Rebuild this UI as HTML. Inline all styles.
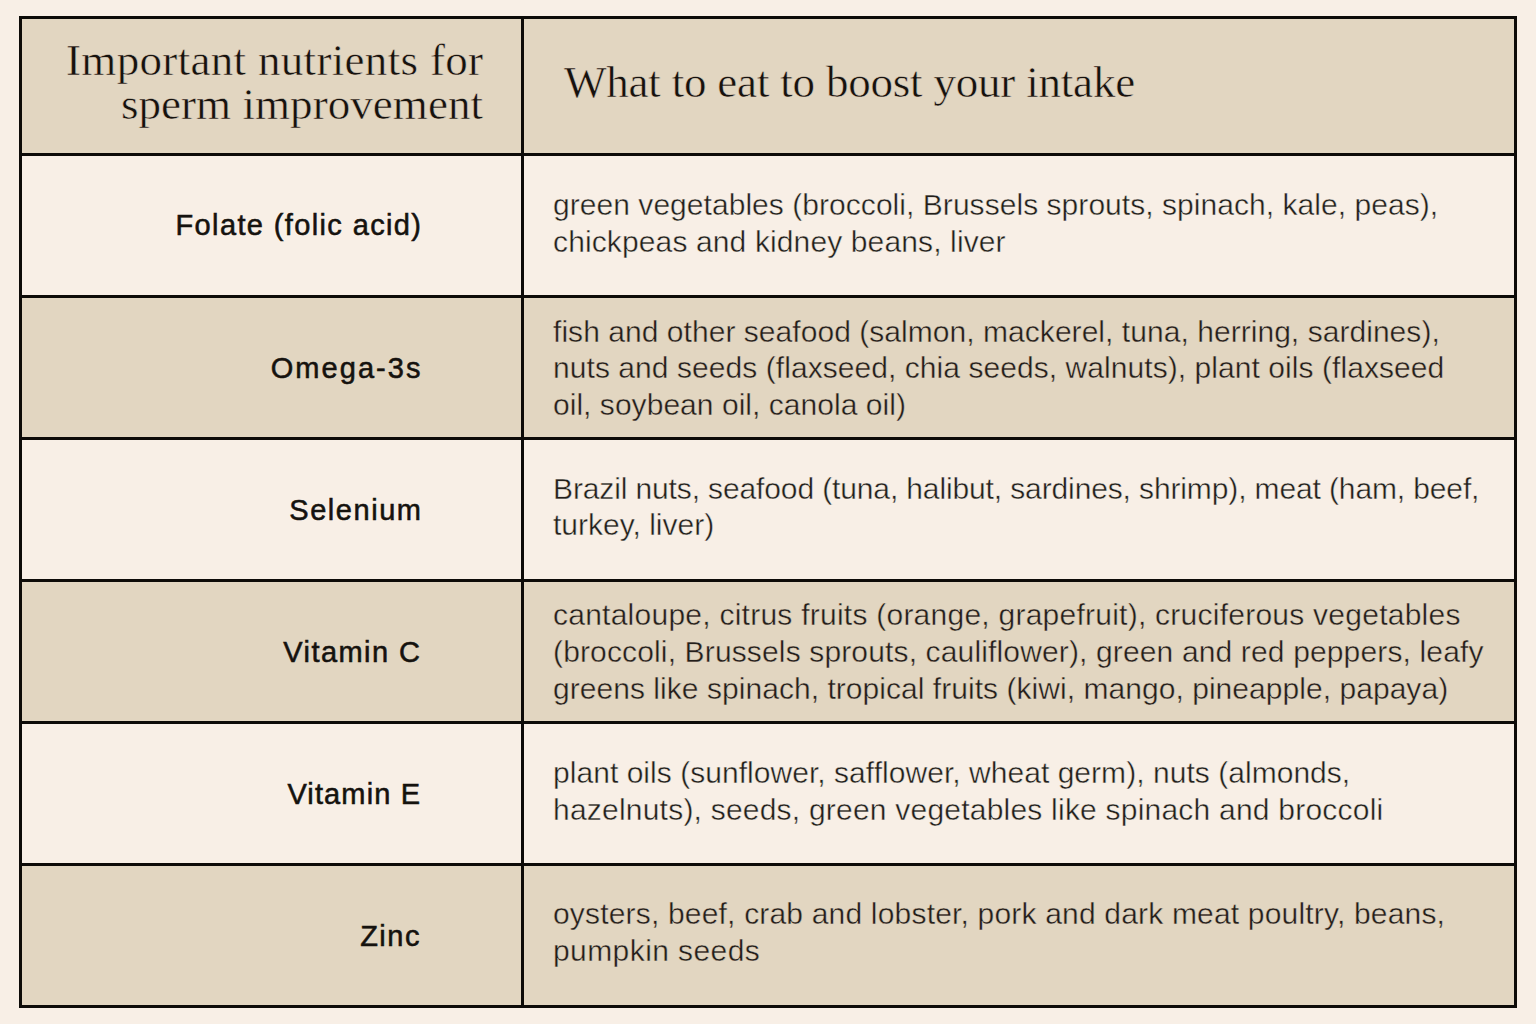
<!DOCTYPE html>
<html>
<head>
<meta charset="utf-8">
<style>
html,body{margin:0;padding:0;}
body{width:1536px;height:1024px;background:#f8efe6;position:relative;overflow:hidden;}
.bg{position:absolute;left:22px;width:1492px;}
.beige{background:#e2d6c1;}
.cream{background:#f8efe6;}
.creams{-webkit-text-stroke:0.4px #f8efe6;}
.beiges{-webkit-text-stroke:0.4px #e2d6c1;}
.hl{position:absolute;left:19px;width:1498px;height:3px;background:#0d0b08;}
.vl{position:absolute;top:16px;width:3px;height:992px;background:#0d0b08;}
.serif{position:absolute;font-family:"Liberation Serif",serif;font-size:45px;line-height:44px;color:#15120e;white-space:nowrap;-webkit-text-stroke:0.5px #e2d6c1;}
.lab{position:absolute;right:1117px;font-family:"Liberation Sans",sans-serif;font-weight:400;color:#15120e;white-space:nowrap;line-height:36px;text-align:right;-webkit-text-stroke:0.55px #15120e;}
.t{position:absolute;left:553px;font-family:"Liberation Sans",sans-serif;line-height:36px;color:#221f1b;white-space:nowrap;}
</style>
</head>
<body>
<div class="bg beige" style="top:19px;height:134px"></div>
<div class="bg cream" style="top:156px;height:139px"></div>
<div class="bg beige" style="top:298px;height:139px"></div>
<div class="bg cream" style="top:440px;height:139px"></div>
<div class="bg beige" style="top:582px;height:139px"></div>
<div class="bg cream" style="top:724px;height:139px"></div>
<div class="bg beige" style="top:866px;height:139px"></div>
<div class="hl" style="top:16px"></div>
<div class="hl" style="top:153px"></div>
<div class="hl" style="top:295px"></div>
<div class="hl" style="top:437px"></div>
<div class="hl" style="top:579px"></div>
<div class="hl" style="top:721px"></div>
<div class="hl" style="top:863px"></div>
<div class="hl" style="top:1005px"></div>
<div class="vl" style="left:19px"></div>
<div class="vl" style="left:521px"></div>
<div class="vl" style="left:1514px"></div>
<div class="serif" style="right:1052.68px;top:38px;letter-spacing:0.32px">Important nutrients for</div>
<div class="serif" style="right:1052.94px;top:82px;letter-spacing:0.06px">sperm improvement</div>
<div class="serif" style="left:564px;top:60px;letter-spacing:-0.2px">What to eat to boost your intake</div>
<div class="lab" style="top:207.45px;right:1113.63px;font-size:29px;letter-spacing:1.37px">Folate (folic acid)</div>
<div class="lab" style="top:350.05px;right:1113.43px;font-size:29px;letter-spacing:2.07px">Omega-3s</div>
<div class="lab" style="top:491.75px;right:1113.46px;font-size:29px;letter-spacing:1.54px">Selenium</div>
<div class="lab" style="top:633.95px;right:1114.56px;font-size:29px;letter-spacing:1.44px">Vitamin C</div>
<div class="lab" style="top:775.95px;right:1114.88px;font-size:29px;letter-spacing:1.125px">Vitamin E</div>
<div class="lab" style="top:917.75px;right:1114.97px;font-size:29px;letter-spacing:1.53px">Zinc</div>
<div class="t creams" style="top:186.80px;font-size:30px;letter-spacing:0.045px">green vegetables (broccoli, Brussels sprouts, spinach, kale, peas),</div>
<div class="t creams" style="top:223.60px;font-size:30px;letter-spacing:0.125px">chickpeas and kidney beans, liver</div>
<div class="t beiges" style="top:313.61px;font-size:30px;letter-spacing:0.045px">fish and other seafood (salmon, mackerel, tuna, herring, sardines),</div>
<div class="t beiges" style="top:350.41px;font-size:30px;letter-spacing:0.06px">nuts and seeds (flaxseed, chia seeds, walnuts), plant oils (flaxseed</div>
<div class="t beiges" style="top:387.21px;font-size:30px;letter-spacing:0.036px">oil, soybean oil, canola oil)</div>
<div class="t creams" style="top:470.61px;font-size:30px;letter-spacing:-0.127px">Brazil nuts, seafood (tuna, halibut, sardines, shrimp), meat (ham, beef,</div>
<div class="t creams" style="top:507.40px;font-size:30px;letter-spacing:0.0px">turkey, liver)</div>
<div class="t beiges" style="top:597.00px;font-size:30px;letter-spacing:0.246px">cantaloupe, citrus fruits (orange, grapefruit), cruciferous vegetables</div>
<div class="t beiges" style="top:633.80px;font-size:30px;letter-spacing:0.143px">(broccoli, Brussels sprouts, cauliflower), green and red peppers, leafy</div>
<div class="t beiges" style="top:670.61px;font-size:30px;letter-spacing:0.044px">greens like spinach, tropical fruits (kiwi, mango, pineapple, papaya)</div>
<div class="t creams" style="top:754.90px;font-size:30px;letter-spacing:0.04px">plant oils (sunflower, safflower, wheat germ), nuts (almonds,</div>
<div class="t creams" style="top:791.70px;font-size:30px;letter-spacing:0.217px">hazelnuts), seeds, green vegetables like spinach and broccoli</div>
<div class="t beiges" style="top:896.40px;font-size:30px;letter-spacing:0.182px">oysters, beef, crab and lobster, pork and dark meat poultry, beans,</div>
<div class="t beiges" style="top:933.20px;font-size:30px;letter-spacing:0.417px">pumpkin seeds</div>
</body>
</html>
